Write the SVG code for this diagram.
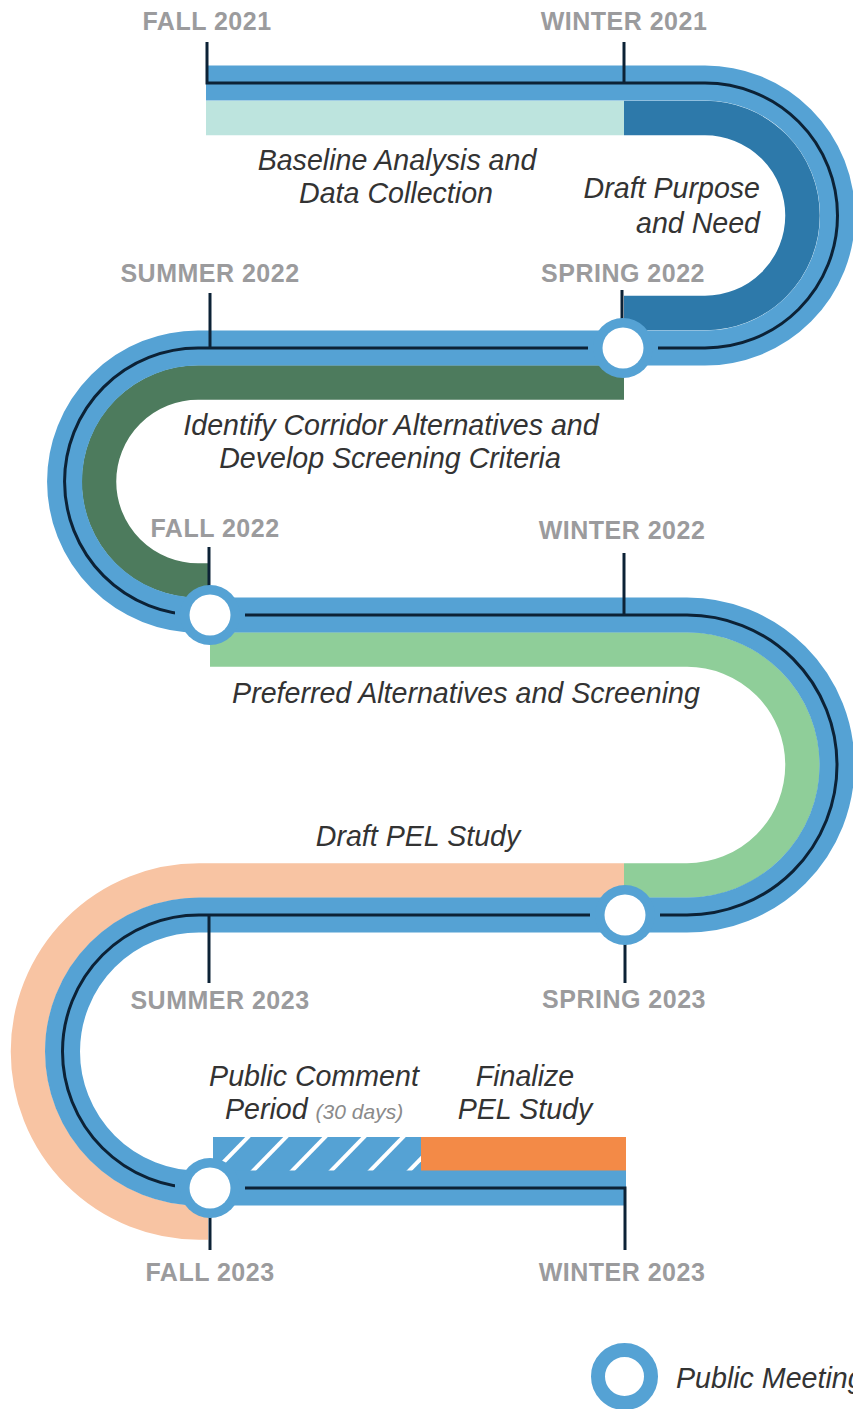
<svg xmlns="http://www.w3.org/2000/svg" width="853" height="1409" viewBox="0 0 853 1409">
<style>
.band{fill:none;stroke-width:34.5;stroke-linecap:butt}
.road{fill:none;stroke:#55a2d4;stroke-width:35;stroke-linecap:butt}
.line{fill:none;stroke:#0c2236;stroke-width:3;stroke-linejoin:miter}
.tick{stroke:#0c2236;stroke-width:3}
.date{font-family:"Liberation Sans",Arial,sans-serif;font-weight:bold;font-size:25px;letter-spacing:0.5px;fill:#9b9b9d;text-anchor:middle}
.lbl{font-family:"Liberation Sans",Arial,sans-serif;font-style:italic;font-size:28.6px;fill:#333333;text-anchor:middle}
.small{font-size:21px;fill:#8a8a8a}
.hatch{stroke:#ffffff;stroke-width:4}
</style>
<defs>
<clipPath id="hclip"><rect x="213" y="1137" width="208" height="35"/></clipPath>
<g id="meet"><rect x="-35" y="-4" width="70" height="8" fill="#55a2d4"/><circle r="30" fill="#55a2d4"/><circle r="20.5" fill="#ffffff"/></g>
</defs>

<g id="phases">
<path class="band" stroke="#bde4de" d="M206,118 H624"/>
<path class="band" stroke="#2d79aa" d="M624,118 H705 A97.5,97.5 0 0 1 705,313 H624"/>
<path class="band" stroke="#4d7b5d" d="M624,382.5 H198 A99,99 0 0 0 198,580.5 H210"/>
<path class="band" stroke="#8fce99" d="M210,649.5 H687 A115.5,115.5 0 0 1 687,880.5 H624"/>
<path class="band" stroke="#f8c4a3" d="M624,880.5 H199 A171,171 0 0 0 199,1222.5 H208"/>
<rect x="213" y="1137" width="208" height="35" fill="#55a2d4"/>
<g clip-path="url(#hclip)">
<line class="hatch" x1="212" y1="1174" x2="250" y2="1135"/>
<line class="hatch" x1="250" y1="1174" x2="288" y2="1135"/>
<line class="hatch" x1="289" y1="1174" x2="327" y2="1135"/>
<line class="hatch" x1="328" y1="1174" x2="366" y2="1135"/>
<line class="hatch" x1="367" y1="1174" x2="405" y2="1135"/>
<line class="hatch" x1="406" y1="1174" x2="444" y2="1135"/>
</g>
<rect x="421" y="1137" width="205" height="34" fill="#f38a47"/>
</g>

<g id="connectors">
<path class="road" d="M206,83 H705 A132.5,132.5 0 0 1 705,348 H198 A133.5,133.5 0 0 0 198,615 H687 A150,150 0 0 1 687,915 H199 A136.5,136.5 0 0 0 199,1188 H626"/>
<path class="line" d="M207,42 V83 H705 A132.5,132.5 0 0 1 705,348 H198 A133.5,133.5 0 0 0 198,615 H687 A150,150 0 0 1 687,915 H199 A136.5,136.5 0 0 0 199,1188 H625 V1250"/>
<line class="tick" x1="624" y1="42" x2="624" y2="83"/>
<line class="tick" x1="210" y1="293" x2="210" y2="348"/>
<line class="tick" x1="622" y1="290" x2="622" y2="348"/>
<line class="tick" x1="209" y1="547" x2="209" y2="615"/>
<line class="tick" x1="624" y1="553" x2="624" y2="615"/>
<line class="tick" x1="209" y1="915" x2="209" y2="983"/>
<line class="tick" x1="625" y1="915" x2="625" y2="983"/>
<line class="tick" x1="210" y1="1188" x2="210" y2="1250"/>
</g>

<g id="meetings">
<use href="#meet" x="623" y="348"/>
<use href="#meet" x="210" y="615"/>
<use href="#meet" x="625" y="915"/>
<use href="#meet" x="210" y="1188"/>
</g>

<g id="dates">
<text class="date" x="207" y="30">FALL 2021</text>
<text class="date" x="624" y="30">WINTER 2021</text>
<text class="date" x="210" y="282">SUMMER 2022</text>
<text class="date" x="623" y="282">SPRING 2022</text>
<text class="date" x="215" y="537">FALL 2022</text>
<text class="date" x="622" y="539">WINTER 2022</text>
<text class="date" x="220" y="1009">SUMMER 2023</text>
<text class="date" x="624" y="1008">SPRING 2023</text>
<text class="date" x="210" y="1281">FALL 2023</text>
<text class="date" x="622" y="1281">WINTER 2023</text>
</g>

<g id="labels">
<text class="lbl" x="397" y="170">Baseline Analysis and</text>
<text class="lbl" x="396" y="203">Data Collection</text>
<text class="lbl" x="760" y="198" style="text-anchor:end">Draft Purpose</text>
<text class="lbl" x="760" y="233" style="text-anchor:end">and Need</text>
<text class="lbl" x="391" y="435">Identify Corridor Alternatives and</text>
<text class="lbl" x="390" y="468">Develop Screening Criteria</text>
<text class="lbl" x="466" y="703">Preferred Alternatives and Screening</text>
<text class="lbl" x="418" y="846">Draft PEL Study</text>
<text class="lbl" x="314" y="1086">Public Comment</text>
<text class="lbl" x="225" y="1119" style="text-anchor:start">Period <tspan class="small">(30 days)</tspan></text>
<text class="lbl" x="525" y="1086">Finalize</text>
<text class="lbl" x="525" y="1119">PEL Study</text>
</g>

<g id="legend">
<circle cx="624.5" cy="1376.5" r="26.5" fill="none" stroke="#55a2d4" stroke-width="14"/>
<text class="lbl" x="676" y="1388" style="text-anchor:start">Public Meeting</text>
</g>
</svg>
